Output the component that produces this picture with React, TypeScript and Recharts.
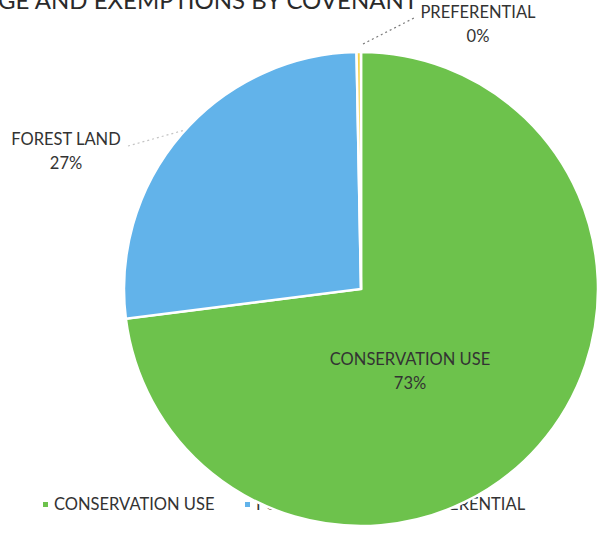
import { PieChart, Pie, Cell, Legend } from "recharts";

const CATEGORIES = ["CONSERVATION USE", "FOREST LAND", "PREFERENTIAL"];
const VALUES = [73.0, 26.7, 0.3];
const COLORS = ["#6DC24C", "#62B3EA", "#F4D44C"];
const TITLE = "ACREAGE AND EXEMPTIONS BY COVENANT";

const data = CATEGORIES.map((name, i) => ({ name, value: VALUES[i] }));

const FONT = "Lato, 'Open Sans', sans-serif";

// label offsets from the pie centre, tuned by eye
const LABEL_OFFSETS = [
  { dx: 49, dy: 72, line: null },
  { dx: -295, dy: -148, line: [-233, -143, -176, -159] },
  { dx: 117, dy: -275, line: [2, -245, 55, -272] },
];

function renderLabel(props: any) {
  const { cx, cy, index, name, percent } = props;
  const o = LABEL_OFFSETS[index];
  const x = cx + o.dx;
  const y = cy + o.dy;
  return (
    <g key={`lbl-${index}`}>
      {o.line && (
        <line
          x1={cx + o.line[0]}
          y1={cy + o.line[1]}
          x2={cx + o.line[2]}
          y2={cy + o.line[3]}
          stroke={index === 2 ? "#7a7a7a" : "#c4c4c4"}
          strokeWidth={1.2}
          strokeDasharray="2 3"
        />
      )}
      <text x={x} y={y} textAnchor="middle" dominantBaseline="middle" fontSize={16.5} fill="#333" fontFamily={FONT}>
        {name}
      </text>
      <text x={x} y={y + 24} textAnchor="middle" dominantBaseline="middle" fontSize={16.5} fill="#333" fontFamily={FONT}>
        {Math.round(percent * 100)}%
      </text>
    </g>
  );
}

const LEGEND_WIDTHS = [202, 148, 170];

function LegendContent() {
  return (
    <div style={{ display: "flex", fontFamily: FONT, fontSize: 16.5, color: "#333", paddingLeft: 43 }}>
      {CATEGORIES.map((c, i) => (
        <div key={c} style={{ width: LEGEND_WIDTHS[i], display: "flex", alignItems: "center" }}>
          <span
            style={{
              display: "inline-block",
              width: i === 2 ? 7 : 5,
              height: i === 2 ? 7 : 5,
              background: COLORS[i],
              border: i === 2 ? "2px solid #f6efd0" : "none",
              marginRight: 6,
            }}
          />
          {c}
        </div>
      ))}
    </div>
  );
}

export default function App() {
  return (
    <div style={{ position: "absolute", left: 0, top: 0, width: 597, height: 539 }}>
      <PieChart width={597} height={539} margin={{ top: 0, right: 0, bottom: 0, left: 0 }}>
        <text x={418} y={9} textAnchor="end" fontSize={24} fill="#2a2a2a" fontFamily={FONT}>
          {TITLE}
        </text>
        <Legend
          verticalAlign="bottom"
          content={<LegendContent />}
          wrapperStyle={{ position: "absolute", left: 0, top: 494, bottom: "auto", width: 597, zIndex: -1 }}
        />
        <Pie
          data={data}
          dataKey="value"
          nameKey="name"
          cx={361}
          cy={289}
          outerRadius={237}
          startAngle={90}
          endAngle={-270}
          stroke="#ffffff"
          strokeWidth={2.5}
          label={renderLabel}
          labelLine={false}
          isAnimationActive={false}
        >
          {data.map((_, i) => (
            <Cell key={i} fill={COLORS[i]} />
          ))}
        </Pie>
      </PieChart>
    </div>
  );
}
